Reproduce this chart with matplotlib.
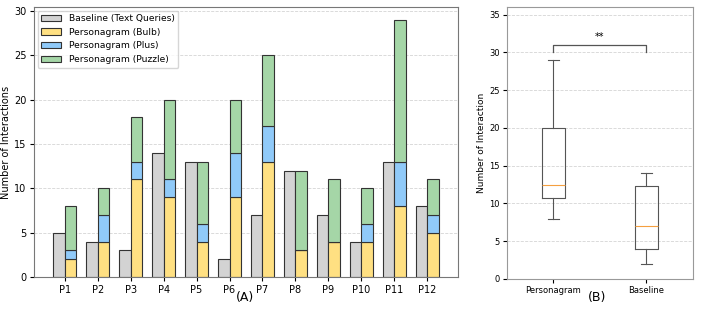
import numpy as np
import matplotlib
matplotlib.use("Agg")
import matplotlib.pyplot as plt

# Data
participants = ["P1", "P2", "P3", "P4", "P5", "P6", "P7", "P8", "P9", "P10", "P11", "P12"]
baseline = [5, 4, 3, 14, 13, 2, 7, 12, 7, 4, 13, 8]
bulb = [2, 4, 11, 9, 4, 9, 13, 3, 4, 4, 8, 5]
plus = [1, 3, 2, 2, 2, 5, 4, 0, 0, 2, 5, 2]
puzzle = [5, 3, 5, 9, 7, 6, 8, 9, 7, 4, 16, 4]

box_labels = ["Personagram", "Baseline"]

bulb = np.array(bulb)
plus = np.array(plus)
puzzle = np.array(puzzle)
personagram_total = bulb + plus + puzzle

c_base = "#D3D3D3"
c_bulb = "#FFE082"
c_plus = "#90CAF9"
c_puzzle = "#A5D6A7"

fig = plt.figure(figsize=(7.14, 3.12), dpi=100)
ax1 = fig.add_axes([0.0476, 0.1122, 0.5938, 0.8654])
ax2 = fig.add_axes([0.710, 0.1058, 0.2605, 0.8718])

# (A) stacked bars
x = np.arange(len(participants))
w = 0.35
ec = "#333333"
ax1.bar(x - w / 2, baseline, w, color=c_base, edgecolor=ec, linewidth=0.8, label="Baseline (Text Queries)")
ax1.bar(x + w / 2, bulb, w, color=c_bulb, edgecolor=ec, linewidth=0.8, label="Personagram (Bulb)")
ax1.bar(x + w / 2, plus, w, bottom=bulb, color=c_plus, edgecolor=ec, linewidth=0.8, label="Personagram (Plus)")
ax1.bar(x + w / 2, puzzle, w, bottom=bulb + plus, color=c_puzzle, edgecolor=ec, linewidth=0.8, label="Personagram (Puzzle)")

ax1.set_xticks(x)
ax1.set_xticklabels(participants, fontsize=7)
ax1.tick_params(axis="both", labelsize=7, pad=2.5, length=3)
ax1.set_ylabel("Number of Interactions", fontsize=7)
ax1.yaxis.set_label_coords(-0.054, 0.5)
ax1.set_yticks([0, 5, 10, 15, 20, 25, 30])
ax1.grid(axis="y", linestyle="--", color="#d5d5d5", linewidth=0.6)
ax1.set_axisbelow(True)
ax1.legend(loc="upper left", fontsize=6.6, framealpha=0.8, handlelength=2.2, borderaxespad=0.4)
for s in ax1.spines.values():
    s.set_color("#777777")

# (B) box plot
bp = ax2.boxplot([personagram_total, baseline], widths=0.24,
                 boxprops=dict(color="#555555", linewidth=0.8),
                 whiskerprops=dict(color="#555555", linewidth=0.8),
                 capprops=dict(color="#555555", linewidth=0.8),
                 medianprops=dict(color="#F5A040", linewidth=0.8))
ax2.set_xticks([1, 2])
ax2.set_xticklabels(box_labels, fontsize=6)
ax2.tick_params(axis="both", labelsize=6, pad=2, length=3)
ax2.set_ylim(0, 36)
ax2.set_yticks([0, 5, 10, 15, 20, 25, 30, 35])
ax2.set_ylabel("Number of Interaction", fontsize=6.5)
ax2.yaxis.set_label_coords(-0.11, 0.5)
ax2.grid(axis="y", linestyle="--", color="#d5d5d5", linewidth=0.6)
ax2.set_axisbelow(True)
for s in ax2.spines.values():
    s.set_color("#999999")

# significance bracket
ax2.plot([1, 1, 2, 2], [30, 31, 31, 30], color="#555555", linewidth=0.9)
ax2.text(1.5, 31.4, "**", ha="center", va="bottom", fontsize=7)

# panel captions
fig.text(245 / 714, 1 - 297 / 312, "(A)", ha="center", va="center", fontsize=9)
fig.text(597 / 714, 1 - 297 / 312, "(B)", ha="center", va="center", fontsize=9)

fig.savefig("out.png", dpi=100)
